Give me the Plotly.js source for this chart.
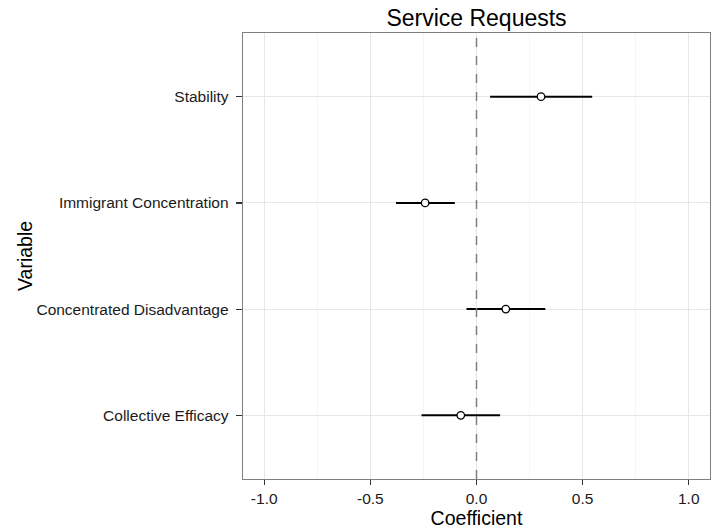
<!DOCTYPE html>
<html>
<head>
<meta charset="utf-8">
<script src="https://cdn.plot.ly/plotly-3.0.1.min.js"></script>
<style>html,body{margin:0;padding:0;background:#fff;}#chart{width:718px;height:531px;}</style>
</head>
<body>
<div id="chart"></div>
<script>
const variables = ["Collective Efficacy", "Concentrated Disadvantage", "Immigrant Concentration", "Stability"];
const coefficients = [-0.074, 0.138, -0.242, 0.304];
const lowerCI = [-0.259, -0.047, -0.379, 0.064];
const upperCI = [0.111, 0.324, -0.102, 0.545];
const xTicks = [-1.0, -0.5, 0.0, 0.5, 1.0];
const xTickLabels = ["-1.0", "-0.5", "0.0", "0.5", "1.0"];

const font = "Liberation Sans, Arial, Helvetica, sans-serif";

const trace = {
  type: "scatter",
  mode: "markers",
  x: coefficients,
  y: variables,
  error_x: {
    type: "data",
    symmetric: false,
    array: upperCI.map((u, i) => u - coefficients[i]),
    arrayminus: coefficients.map((c, i) => c - lowerCI[i]),
    width: 0,
    thickness: 2,
    color: "#000000"
  },
  marker: {symbol: "circle", size: 7.5, color: "#ffffff", line: {color: "#000000", width: 1.3}},
  hoverinfo: "skip",
  showlegend: false
};

const layout = {
  width: 718,
  height: 531,
  margin: {l: 243, r: 8, t: 33, b: 52, pad: 0},
  paper_bgcolor: "#ffffff",
  plot_bgcolor: "#ffffff",
  font: {family: font, color: "#000000"},
  title: {text: "Service Requests", font: {family: font, size: 23, color: "#000000"}, x: 0.5, xref: "paper", xanchor: "center", y: 0.966, yref: "container", yanchor: "middle"},
  xaxis: {
    range: [-1.1, 1.1],
    tickvals: xTicks,
    ticktext: xTickLabels,
    ticks: "outside",
    ticklen: 5,
    tickwidth: 1.2,
    tickcolor: "#333333",
    tickfont: {family: font, size: 15.5, color: "#1a1a1a"},
    showgrid: true,
    gridcolor: "#e6e6e6",
    gridwidth: 1,
    minor: {tickvals: [-0.75, -0.25, 0.25, 0.75], showgrid: true, gridcolor: "#f5f5f5", gridwidth: 1, ticks: ""},
    zeroline: false,
    showline: true,
    mirror: true,
    linecolor: "#7f7f7f",
    linewidth: 1.3,
    title: {text: "Coefficient", font: {family: font, size: 19.5, color: "#000000"}, standoff: 4}
  },
  yaxis: {
    type: "category",
    categoryorder: "array",
    categoryarray: variables,
    range: [-0.6, 3.6],
    ticks: "outside",
    ticklen: 6,
    tickwidth: 1.2,
    tickcolor: "#333333",
    ticklabelstandoff: 4,
    tickfont: {family: font, size: 15.5, color: "#1a1a1a"},
    showgrid: true,
    gridcolor: "#e6e6e6",
    gridwidth: 1,
    zeroline: false,
    showline: true,
    mirror: true,
    linecolor: "#7f7f7f",
    linewidth: 1.3
  },
  annotations: [{
    text: "Variable", textangle: -90, showarrow: false,
    xref: "paper", yref: "paper", x: -0.4668, y: 0.5, xanchor: "center", yanchor: "middle",
    font: {family: font, size: 19.5, color: "#000000"}
  }],
  shapes: [{
    type: "line", xref: "x", yref: "paper", x0: 0, x1: 0, y0: 0, y1: 1,
    line: {color: "#7f7f7f", width: 1.5, dash: "dash"}, layer: "above"
  }]
};

Plotly.newPlot("chart", [trace], layout, {staticPlot: true, displayModeBar: false});
</script>
</body>
</html>
